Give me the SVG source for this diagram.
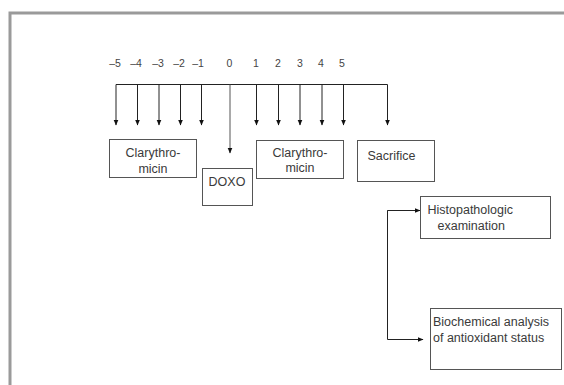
<svg xmlns="http://www.w3.org/2000/svg" width="564" height="385" viewBox="0 0 564 385">
<style>
.frame{fill:none;stroke:#9a9a9a;stroke-width:3}
.box{fill:#fff;stroke:#555;stroke-width:1}
.t{font-family:"Liberation Sans",Arial,sans-serif;font-size:12.5px;fill:#3a3a3a}
.n{font-family:"Liberation Sans",Arial,sans-serif;font-size:10.5px;fill:#444;text-anchor:middle}
.c{fill:none;stroke:#222;stroke-width:1}
.g{fill:none;stroke:#555;stroke-width:1}
</style>
<defs>
<marker id="ah" markerWidth="6" markerHeight="6" refX="5.5" refY="3" orient="auto" markerUnits="userSpaceOnUse">
<path d="M0,0.5 L6,3 L0,5.5 Z" fill="#111"/>
</marker>
</defs>
<rect class="frame" x="10" y="13" width="600" height="420"/>
<g id="scale">
<text class="n" x="115" y="67">–5</text>
<text class="n" x="136" y="67">–4</text>
<text class="n" x="158" y="67">–3</text>
<text class="n" x="179" y="67">–2</text>
<text class="n" x="198" y="67">–1</text>
<text class="n" x="229.5" y="67">0</text>
<text class="n" x="256" y="67">1</text>
<text class="n" x="278" y="67">2</text>
<text class="n" x="300" y="67">3</text>
<text class="n" x="321" y="67">4</text>
<text class="n" x="342" y="67">5</text>
</g>
<g id="connectors">
<path class="c" d="M116,84.5 H387.5"/>
<path class="c" d="M116,84.5 V125" marker-end="url(#ah)"/>
<path class="c" d="M137.5,84.5 V125" marker-end="url(#ah)"/>
<path class="c" d="M159,84.5 V125" marker-end="url(#ah)"/>
<path class="c" d="M180.5,84.5 V125" marker-end="url(#ah)"/>
<path class="c" d="M201.5,84.5 V125" marker-end="url(#ah)"/>
<path class="g" d="M230,84.5 V153" marker-end="url(#ah)"/>
<path class="c" d="M256.5,84.5 V125" marker-end="url(#ah)"/>
<path class="c" d="M278.5,84.5 V125" marker-end="url(#ah)"/>
<path class="c" d="M300,84.5 V125" marker-end="url(#ah)"/>
<path class="c" d="M322,84.5 V125" marker-end="url(#ah)"/>
<path class="c" d="M343.5,84.5 V125" marker-end="url(#ah)"/>
<path class="c" d="M387.5,84.5 V125" marker-end="url(#ah)"/>
<path class="c" d="M420,210.5 H387.5 V339.5 H423" marker-end="url(#ah)"/>
<path class="c" d="M387.5,210.5 H420" marker-end="url(#ah)"/>
</g>
<g id="clary1">
<rect class="box" x="109.5" y="139.5" width="87" height="38"/>
<text class="t" x="153" y="157" text-anchor="middle">Clarythro-</text>
<text class="t" x="153" y="173" text-anchor="middle">micin</text>
</g>
<g id="doxo">
<rect class="box" x="202.5" y="168.5" width="50" height="37"/>
<text class="t" x="227" y="186" text-anchor="middle">DOXO</text>
</g>
<g id="clary2">
<rect class="box" x="256.5" y="140.5" width="87" height="38"/>
<text class="t" x="300" y="157" text-anchor="middle">Clarythro-</text>
<text class="t" x="300" y="172" text-anchor="middle">micin</text>
</g>
<g id="sacrifice">
<rect class="box" x="357.5" y="140.5" width="77" height="41"/>
<text class="t" x="367.5" y="160">Sacrifice</text>
</g>
<g id="histo">
<rect class="box" x="420.5" y="196.5" width="130" height="42"/>
<text class="t" x="427.5" y="214">Histopathologic</text>
<text class="t" x="437.5" y="229.5">examination</text>
</g>
<g id="biochem">
<rect class="box" x="430.5" y="308.5" width="131" height="61"/>
<text class="t" x="433" y="326">Biochemical analysis</text>
<text class="t" x="433" y="342">of antioxidant status</text>
</g>
</svg>
